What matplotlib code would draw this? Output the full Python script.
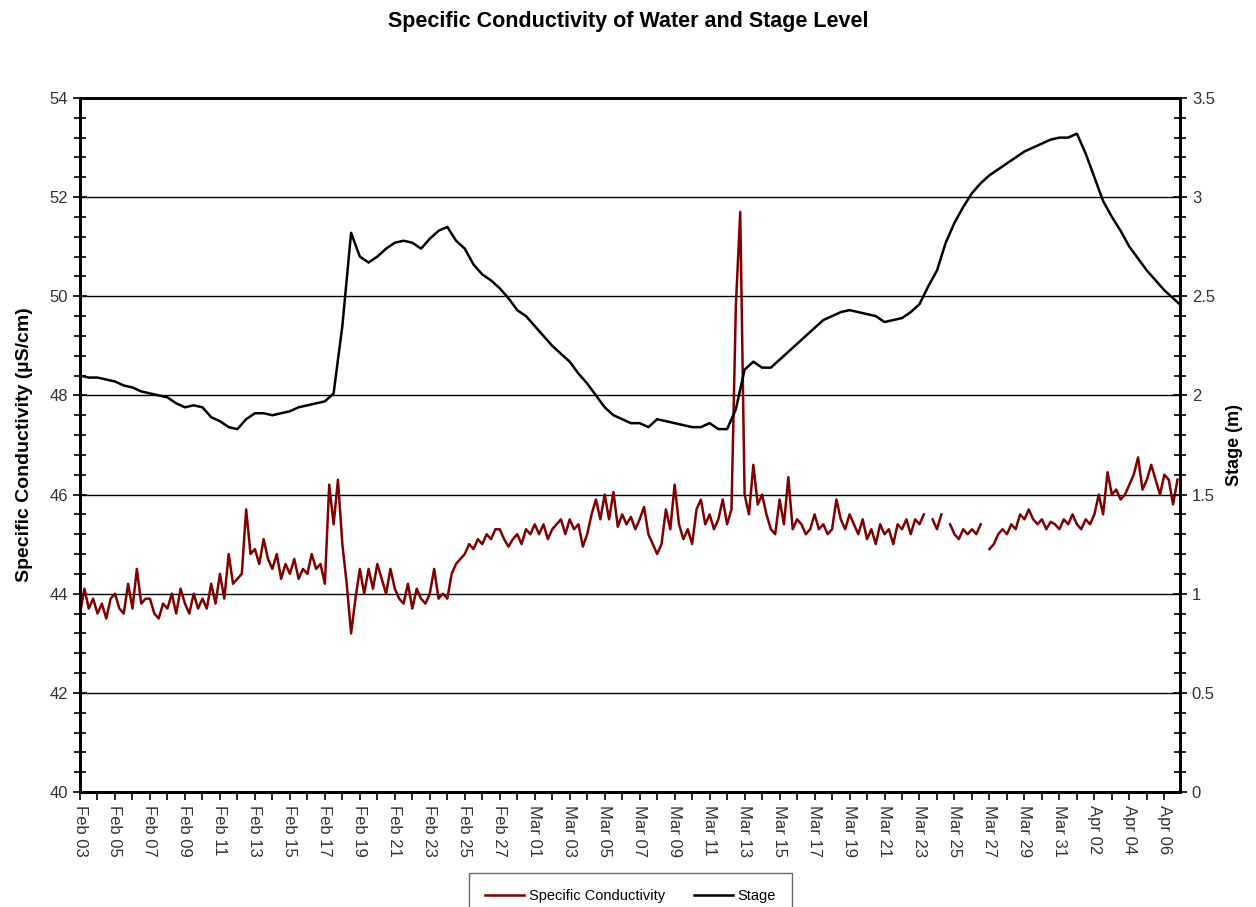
import matplotlib
matplotlib.use('Agg')

import numpy as np
import matplotlib.pyplot as plt
import matplotlib.dates as mdates
from matplotlib.ticker import MultipleLocator

plt.rcParams['font.family'] = ['Liberation Sans', 'DejaVu Sans']

# specific conductivity (uS/cm), every 6 hours from Feb 03 00:00, one row per day
cond = np.array([
    43.6, 44.1, 43.7, 43.9,
    43.6, 43.8, 43.5, 43.9,
    44.0, 43.7, 43.6, 44.2,
    43.7, 44.5, 43.8, 43.9,
    43.9, 43.6, 43.5, 43.8,
    43.7, 44.0, 43.6, 44.1,
    43.8, 43.6, 44.0, 43.7,
    43.9, 43.7, 44.2, 43.8,
    44.4, 43.9, 44.8, 44.2,
    44.3, 44.4, 45.7, 44.8,
    44.9, 44.6, 45.1, 44.7,
    44.5, 44.8, 44.3, 44.6,
    44.4, 44.7, 44.3, 44.5,
    44.4, 44.8, 44.5, 44.6,
    44.2, 46.2, 45.4, 46.3,
    45.0, 44.2, 43.2, 43.9,
    44.5, 44.0, 44.5, 44.1,
    44.6, 44.3, 44.0, 44.5,
    44.1, 43.9, 43.8, 44.2,
    43.7, 44.1, 43.9, 43.8,
    44.0, 44.5, 43.9, 44.0,
    43.9, 44.4, 44.6, 44.7,
    44.8, 45.0, 44.9, 45.1,
    45.0, 45.2, 45.1, 45.3,
    45.3, 45.1, 44.95, 45.1,
    45.2, 45.0, 45.3, 45.2,
    45.4, 45.2, 45.4, 45.1,
    45.3, 45.4, 45.5, 45.2,
    45.5, 45.3, 45.4, 44.95,
    45.2, 45.6, 45.9, 45.5,
    46.0, 45.5, 46.05, 45.35,
    45.6, 45.4, 45.55, 45.3,
    45.5, 45.75, 45.2, 45.0,
    44.8, 45.0, 45.7, 45.3,
    46.2, 45.4, 45.1, 45.3,
    45.0, 45.7, 45.9, 45.4,
    45.6, 45.3, 45.5, 45.9,
    45.4, 45.7, 49.8, 51.7,
    46.0, 45.6, 46.6, 45.8,
    46.0, 45.6, 45.3, 45.2,
    45.9, 45.4, 46.35, 45.3,
    45.5, 45.4, 45.2, 45.3,
    45.6, 45.3, 45.4, 45.2,
    45.3, 45.9, 45.5, 45.3,
    45.6, 45.4, 45.2, 45.5,
    45.1, 45.3, 45.0, 45.4,
    45.2, 45.3, 45.0, 45.4,
    45.3, 45.5, 45.2, 45.5,
    45.4, 45.6, np.nan, 45.5,
    45.3, 45.6, np.nan, 45.4,
    45.2, 45.1, 45.3, 45.2,
    45.3, 45.2, 45.4, np.nan,
    44.9, 45.0, 45.2, 45.3,
    45.2, 45.4, 45.3, 45.6,
    45.5, 45.7, 45.5, 45.4,
    45.5, 45.3, 45.45, 45.4,
    45.3, 45.5, 45.4, 45.6,
    45.4, 45.3, 45.5, 45.4,
    45.6, 46.0, 45.6, 46.45,
    46.0, 46.1, 45.9, 46.0,
    46.2, 46.4, 46.75, 46.1,
    46.3, 46.6, 46.3, 46.0,
    46.4, 46.3, 45.8, 46.3,
])

# stage (m), every 12 hours from Feb 03 00:00
stage = np.array([
    2.10, 2.09, 2.09, 2.08, 2.07, 2.05, 2.04, 2.02, 2.01, 2.00,
    1.99, 1.96, 1.94, 1.95, 1.94, 1.89, 1.87, 1.84, 1.83, 1.88,
    1.91, 1.91, 1.90, 1.91, 1.92, 1.94, 1.95, 1.96, 1.97, 2.01,
    2.35, 2.82, 2.70, 2.67, 2.70, 2.74, 2.77, 2.78, 2.77, 2.74,
    2.79, 2.83, 2.85, 2.78, 2.74, 2.66, 2.61, 2.58, 2.54, 2.49,
    2.43, 2.40, 2.35, 2.30, 2.25, 2.21, 2.17, 2.11, 2.06, 2.00,
    1.94, 1.90, 1.88, 1.86, 1.86, 1.84, 1.88, 1.87, 1.86, 1.85,
    1.84, 1.84, 1.86, 1.83, 1.83, 1.93, 2.13, 2.17, 2.14, 2.14,
    2.18, 2.22, 2.26, 2.30, 2.34, 2.38, 2.40, 2.42, 2.43, 2.42,
    2.41, 2.40, 2.37, 2.38, 2.39, 2.42, 2.46, 2.55, 2.63, 2.77,
    2.87, 2.95, 3.02, 3.07, 3.11, 3.14, 3.17, 3.20, 3.23, 3.25,
    3.27, 3.29, 3.30, 3.30, 3.32, 3.22, 3.10, 2.98, 2.90, 2.83,
    2.75, 2.69, 2.63, 2.58, 2.53, 2.49, 2.45,
])

start = np.datetime64('2010-02-03T00:00')
t_cond = start + (np.arange(len(cond)) * 6).astype('timedelta64[h]')
t_stage = start + (np.arange(len(stage)) * 12).astype('timedelta64[h]')

fig = plt.figure(figsize=(12.56, 9.07), dpi=100)
ax = fig.add_axes([0.0637, 0.1268, 0.8758, 0.7652])
ax2 = ax.twinx()

ax.plot(t_cond, cond, color='#800000', lw=1.8, label='Specific Conductivity', zorder=3)
ax2.plot(t_stage, stage, color='black', lw=1.8, label='Stage')

ax.set_ylim(40, 54)
ax2.set_ylim(0, 3.5)
ax.set_xlim(start, np.datetime64('2010-04-06T21:30'))

ax.yaxis.set_major_locator(MultipleLocator(2))
ax.yaxis.set_minor_locator(MultipleLocator(0.4))
ax2.yaxis.set_major_locator(MultipleLocator(0.5))
ax2.yaxis.set_minor_locator(MultipleLocator(0.1))
ax2.yaxis.set_major_formatter(plt.FuncFormatter(lambda v, p: f'{v:g}'))

# labels every second day from Feb 03
ax.set_xticks(start + np.arange(0, 64, 2).astype('timedelta64[D]'))
ax.xaxis.set_minor_locator(mdates.DayLocator())
ax.xaxis.set_major_formatter(mdates.DateFormatter('%b %d'))

ax.grid(axis='y', which='major', color='black', lw=1.0)
ax.set_axisbelow(True)

for a in (ax, ax2):
    for s in a.spines.values():
        s.set_linewidth(2)
for a in (ax, ax2):
    a.tick_params(axis='y', which='both', direction='inout', width=1.2, labelsize=12, labelcolor='#333333')
    a.tick_params(axis='y', which='major', length=10)
    a.tick_params(axis='y', which='minor', length=8)
ax.tick_params(axis='x', which='both', direction='out', length=6, width=1.2, labelsize=12, labelcolor='#333333')
for lab in ax.get_xticklabels():
    lab.set_rotation(270)
    lab.set_ha('center')
    lab.set_va('top')

ax.set_ylabel('Specific Conductivity (µS/cm)', fontsize=14, fontweight='bold', labelpad=12)
ax2.set_ylabel('Stage (m)', fontsize=13, fontweight='bold', labelpad=8)
fig.suptitle('Specific Conductivity of Water and Stage Level', fontsize=15.5, fontweight='bold', y=0.988)

h1, l1 = ax.get_legend_handles_labels()
h2, l2 = ax2.get_legend_handles_labels()
leg = fig.legend(h1 + h2, l1 + l2, loc='upper center', bbox_to_anchor=(0.502, 0.037), ncol=2,
                 borderaxespad=0, fancybox=False, edgecolor='#444444', fontsize=10.5,
                 handlelength=2.7, handletextpad=0.3, borderpad=1.1, columnspacing=2.0)
leg.get_frame().set_linewidth(1.0)

fig.savefig('out.png', dpi=100)
